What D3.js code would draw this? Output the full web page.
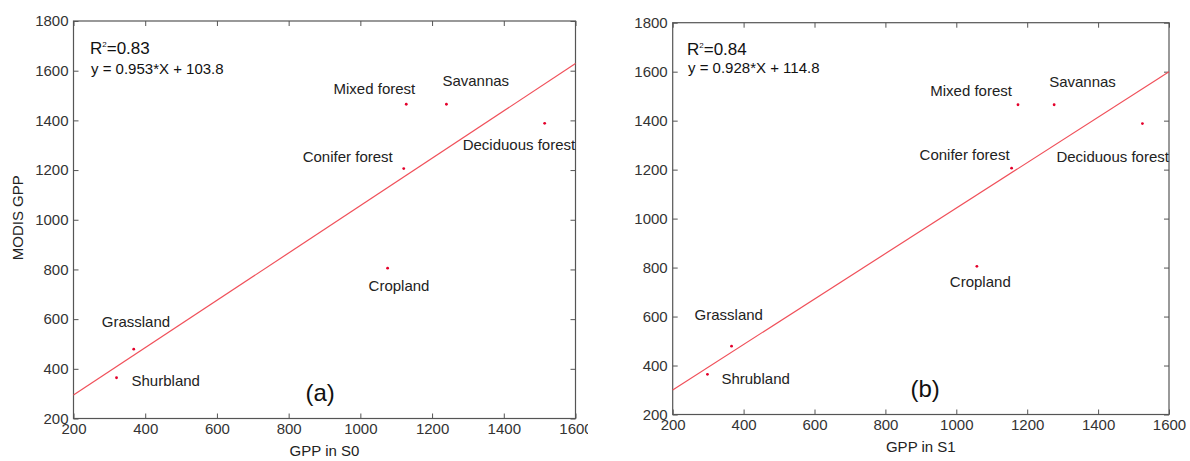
<!DOCTYPE html>
<html>
<head>
<meta charset="utf-8">
<script src="https://cdn.jsdelivr.net/npm/d3@7"></script>
<style>
  html, body { margin: 0; padding: 0; background: #fff; }
  svg { display: block; font-family: "Liberation Sans", Arial, sans-serif; }
</style>
</head>
<body>
<svg id="chart" width="1190" height="461"></svg>
<script>
// Land cover types, one point per type
const namesS0 = ["Mixed forest", "Savannas", "Deciduous forest", "Conifer forest", "Cropland", "Grassland", "Shurbland"];
const namesS1 = ["Mixed forest", "Savannas", "Deciduous forest", "Conifer forest", "Cropland", "Grassland", "Shrubland"];

// MODIS GPP (y) against modelled GPP in scenarios S0 and S1 (x)
const modisGPP = [1465, 1465, 1388, 1206, 805, 479, 364];
const gppS0 = [1128, 1240, 1514, 1121, 1076, 368, 320];
const gppS1 = [1174, 1276, 1525, 1156, 1058, 366, 298];

// Linear fits: [slope, intercept] and R²
const fitS0 = [0.953, 103.8];
const fitS1 = [0.928, 114.8];
const r2Values = [0.83, 0.84];

// Axis ticks
const xTicks = [200, 400, 600, 800, 1000, 1200, 1400, 1600];
const yTicks = [200, 400, 600, 800, 1000, 1200, 1400, 1600, 1800];

// Label placement around each point (pixels): [anchor, dx, dy]
const labelPlaceS0 = [
  ["end", 9, -10], ["start", -4, -18], ["start", -82, 27], ["end", -11, -7],
  ["start", -19, 23], ["start", -32, -22], ["start", 15, 8]
];
const labelPlaceS1 = [
  ["end", -6, -9], ["start", -5, -18], ["start", -86, 38], ["end", -2, -8],
  ["start", -27, 21], ["start", -37, -26], ["start", 14, 10]
];

const svg = d3.select("#chart");
const frameColor = "#555";
const textColor = "#222";
const pointColor = "#e4002b";
const lineColor = "#f0505a";

svg.append("defs").append("clipPath").attr("id", "clipA")
  .append("rect").attr("x", 0).attr("y", 0).attr("width", 588).attr("height", 461);

function panel(cfg) {
  const g = svg.append("g");
  if (cfg.clip) g.attr("clip-path", `url(#${cfg.clip})`);
  const x = d3.scaleLinear().domain([200, 1600]).range([cfg.left, cfg.right]);
  const y = d3.scaleLinear().domain([200, 1800]).range([cfg.bottom, cfg.top]);

  const tickLen = -5;
  const fmt = d3.format("d");

  const ax = g.append("g").attr("transform", `translate(0,${cfg.bottom})`)
    .call(d3.axisBottom(x).tickValues(xTicks).tickSize(tickLen).tickPadding(5).tickFormat(fmt));
  const ay = g.append("g").attr("transform", `translate(${cfg.left},0)`)
    .call(d3.axisLeft(y).tickValues(yTicks).tickSize(tickLen).tickPadding(5).tickFormat(fmt));
  const at = g.append("g").attr("transform", `translate(0,${cfg.top})`)
    .call(d3.axisTop(x).tickValues(xTicks).tickSize(tickLen).tickFormat(""));
  const ar = g.append("g").attr("transform", `translate(${cfg.right},0)`)
    .call(d3.axisRight(y).tickValues(yTicks).tickSize(tickLen).tickFormat(""));

  [ax, ay, at, ar].forEach(a => {
    a.select(".domain").remove();
    a.selectAll(".tick line").attr("stroke", frameColor).attr("stroke-width", 1);
    a.selectAll(".tick text").attr("fill", "#333").style("font-size", "15px")
      .style("font-family", '"Liberation Sans", Arial, sans-serif');
  });

  g.append("rect")
    .attr("x", cfg.left).attr("y", cfg.top)
    .attr("width", cfg.right - cfg.left).attr("height", cfg.bottom - cfg.top)
    .attr("fill", "none").attr("stroke", frameColor).attr("stroke-width", 1.2);

  // regression line across the x domain
  const [slope, intercept] = cfg.fit;
  const line = d3.line().x(d => x(d)).y(d => y(slope * d + intercept));
  g.append("path").datum([200, 1600]).attr("d", line)
    .attr("fill", "none").attr("stroke", lineColor).attr("stroke-width", 1.2);

  // points
  const pts = cfg.xs.map((v, i) => ({ x: v, y: modisGPP[i], name: cfg.names[i], place: cfg.place[i] }));
  g.selectAll("circle.pt").data(pts).join("circle").attr("class", "pt")
    .attr("cx", d => x(d.x)).attr("cy", d => y(d.y)).attr("r", 1.4).attr("fill", pointColor);

  g.selectAll("text.lbl").data(pts).join("text").attr("class", "lbl")
    .attr("x", d => x(d.x) + d.place[1]).attr("y", d => y(d.y) + d.place[2])
    .attr("text-anchor", d => d.place[0])
    .attr("fill", textColor).style("font-size", "15px")
    .text(d => d.name);

  // fit statistics
  const r2 = g.append("text").attr("x", cfg.statX).attr("y", cfg.top + cfg.r2Dy)
    .attr("fill", "#111").style("font-size", "17px");
  r2.append("tspan").text("R");
  r2.append("tspan").attr("dy", -7).style("font-size", "8px").text("2");
  r2.append("tspan").attr("dy", 7).text("=" + r2Values[cfg.idx].toFixed(2));
  g.append("text").attr("x", cfg.statX + 1).attr("y", cfg.top + cfg.eqDy)
    .attr("fill", "#111").style("font-size", "15px")
    .text(`y = ${slope.toFixed(3)}*X + ${intercept.toFixed(1)}`);

  // panel tag
  g.append("text").attr("x", x(cfg.tagX)).attr("y", cfg.bottom - 18)
    .attr("text-anchor", "middle").attr("fill", "#111").style("font-size", "24px")
    .text(cfg.tag);

  // axis titles
  g.append("text").attr("x", (cfg.left + cfg.right) / 2).attr("y", cfg.bottom + 37)
    .attr("text-anchor", "middle").attr("fill", textColor).style("font-size", "15px")
    .text(cfg.xTitle);
  if (cfg.yTitle) {
    g.append("text")
      .attr("transform", `translate(23,${(cfg.top + cfg.bottom) / 2 - 2}) rotate(-90)`)
      .attr("text-anchor", "middle").attr("fill", textColor).style("font-size", "15px")
      .text(cfg.yTitle);
  }
}

panel({
  idx: 0, left: 73.5, right: 575.5, top: 21, bottom: 418.5, clip: "clipA",
  xs: gppS0, names: namesS0, place: labelPlaceS0, fit: fitS0,
  statX: 90, r2Dy: 33, eqDy: 53, tag: "(a)", tagX: 888, xTitle: "GPP in S0", yTitle: "MODIS GPP"
});
panel({
  idx: 1, left: 672.7, right: 1169, top: 22.7, bottom: 414.5,
  xs: gppS1, names: namesS1, place: labelPlaceS1, fit: fitS1,
  statX: 687, r2Dy: 32, eqDy: 50, tag: "(b)", tagX: 912, xTitle: "GPP in S1"
});
</script>
</body>
</html>
